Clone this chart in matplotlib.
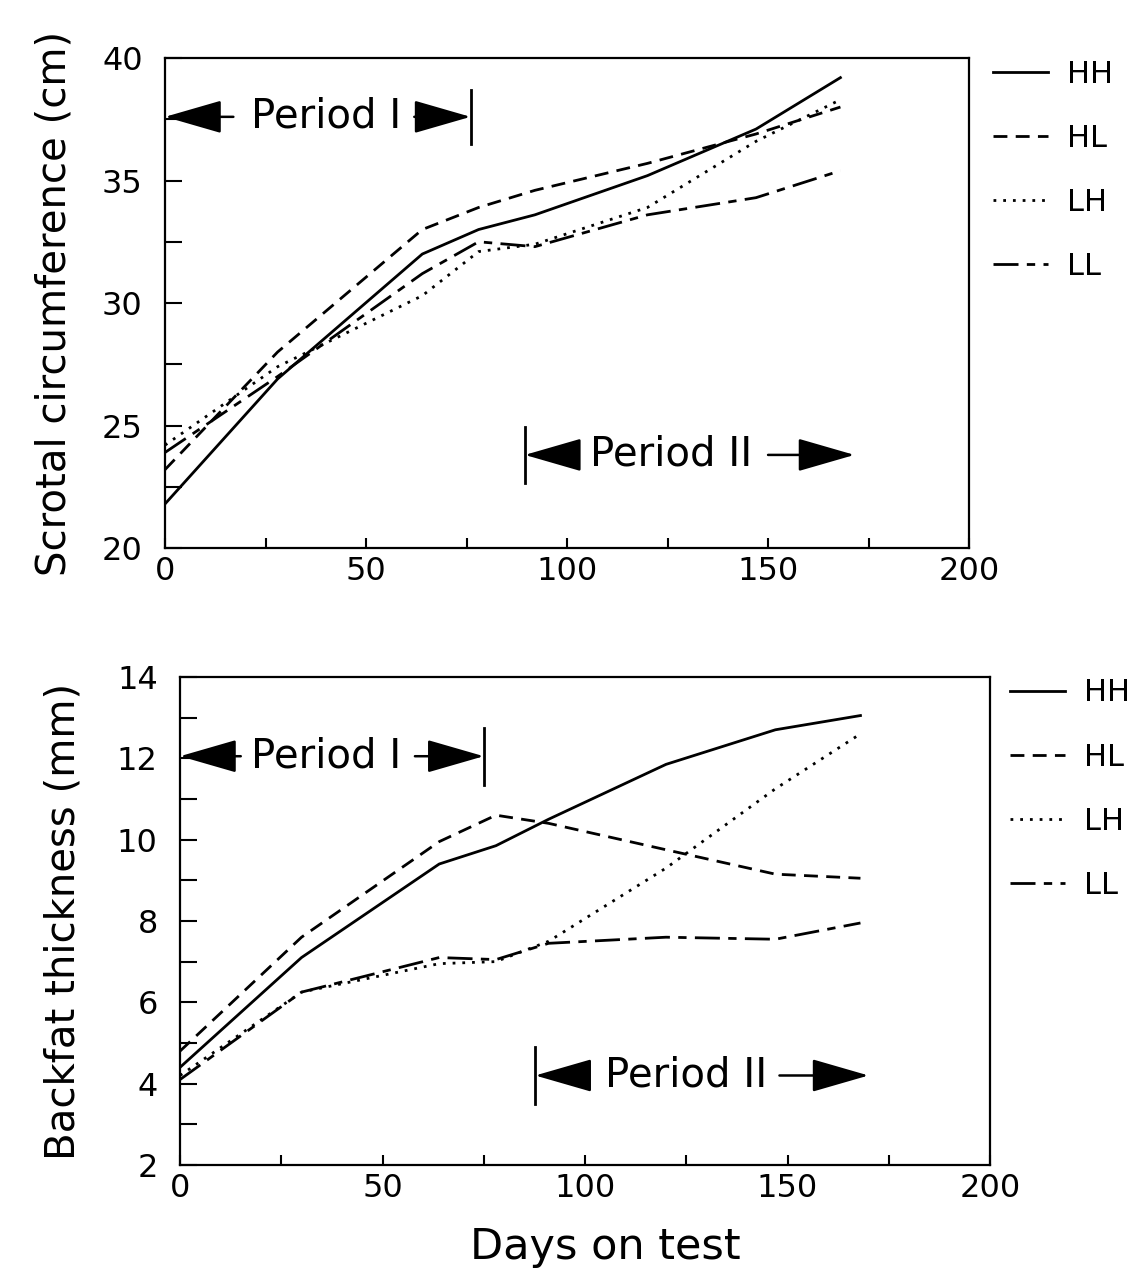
import matplotlib
matplotlib.use("Agg")
import matplotlib.pyplot as plt
from matplotlib.ticker import MultipleLocator

# days on test at which the groups were measured
days = [0, 28, 64, 78, 92, 120, 147, 168]
days_bf = [0, 30, 64, 78, 91, 120, 147, 168]

# scrotal circumference (cm)
sc_hh = [21.8, 26.9, 32.0, 33.0, 33.6, 35.2, 37.1, 39.2]
sc_hl = [23.2, 28.0, 33.0, 33.9, 34.6, 35.7, 36.9, 38.0]
sc_lh = [24.2, 27.4, 30.3, 32.1, 32.4, 33.9, 36.6, 38.3]
sc_ll = [23.9, 27.0, 31.2, 32.5, 32.3, 33.6, 34.3, 35.4]

# backfat thickness (mm)
bf_hh = [4.4, 7.1, 9.4, 9.85, 10.5, 11.85, 12.7, 13.05]
bf_hl = [4.8, 7.6, 9.95, 10.6, 10.4, 9.75, 9.15, 9.05]
bf_lh = [4.2, 6.25, 6.95, 7.0, 7.5, 9.3, 11.25, 12.6]
bf_ll = [4.1, 6.25, 7.1, 7.05, 7.45, 7.6, 7.55, 7.95]

groups = ["HH", "HL", "LH", "LL"]
styles = ["-", (0, (5, 3)), (0, (1, 2.5)), (0, (9, 3, 3, 3))]
LW = 2.0

plt.rcParams['font.family'] = ['DejaVu Sans']

fig = plt.figure(figsize=(11.35, 12.7), dpi=100)
ax1 = fig.add_axes([0.1454, 0.5685, 0.7084, 0.3858])
ax2 = fig.add_axes([0.1586, 0.0827, 0.7137, 0.3843])


def setup(ax, ylim, ymaj, ymin, ylabel, pad):
    ax.set_xlim(0, 200)
    ax.set_ylim(*ylim)
    ax.xaxis.set_major_locator(MultipleLocator(50))
    ax.xaxis.set_minor_locator(MultipleLocator(25))
    ax.yaxis.set_major_locator(MultipleLocator(ymaj))
    ax.yaxis.set_minor_locator(MultipleLocator(ymin))
    ax.tick_params(axis='both', which='both', direction='in', width=1.5, labelsize=23)
    ax.tick_params(axis='y', which='both', length=12, pad=16)
    ax.tick_params(axis='x', which='both', length=7, pad=6)
    for s in ax.spines.values():
        s.set_linewidth(1.6)
    ax.set_ylabel(ylabel, fontsize=29, labelpad=pad)


# top panel
for vals, lab, ls in zip([sc_hh, sc_hl, sc_lh, sc_ll], groups, styles):
    ax1.plot(days, vals, color='black', lw=LW, linestyle=ls, label=lab)
setup(ax1, (20, 40), 5, 2.5, "Scrotal circumference (cm)", 20)

# bottom panel
for vals, lab, ls in zip([bf_hh, bf_hl, bf_lh, bf_ll], groups, styles):
    ax2.plot(days_bf, vals, color='black', lw=LW, linestyle=ls, label=lab)
setup(ax2, (2, 14), 2, 1, "Backfat thickness (mm)", 24)
ax2.set_xlabel("Days on test", fontsize=31, labelpad=16)
ax2.xaxis.set_label_coords(0.525, -0.125)

# period annotations
head = dict(arrowstyle='-|>,head_length=0.9,head_width=0.26',
            mutation_scale=40, color='black', lw=1.8, shrinkA=0, shrinkB=0)


def period(ax, y, half, label, centre, left, right, x0, x1, bar):
    ax.text(centre, y, label, ha='center', va='center', fontsize=29)
    ax.plot([bar, bar], [y - half, y + half], color='black', lw=2.0)
    ax.annotate('', xy=(x0, y), xytext=(left, y), arrowprops=head)
    ax.annotate('', xy=(x1, y), xytext=(right, y), arrowprops=head)


period(ax1, 37.6, 1.1, "Period I", 40, 17, 62, 0, 76, 76)
period(ax1, 23.8, 1.15, "Period II", 126, 102, 150, 89.5, 171.5, 89.5)
period(ax2, 12.05, 0.7, "Period I", 36, 15, 58, 0, 75, 75)
period(ax2, 4.2, 0.7, "Period II", 125, 101, 148, 87.7, 170, 87.7)

for ax, bx in ((ax1, 1.03), (ax2, 1.025)):
    ax.legend(loc='upper left', bbox_to_anchor=(bx, 0.997), frameon=False,
              fontsize=22, handlelength=1.8, handletextpad=0.6,
              labelspacing=1.15, borderaxespad=0.0, borderpad=0.0)

fig.savefig("out.png", dpi=100)
